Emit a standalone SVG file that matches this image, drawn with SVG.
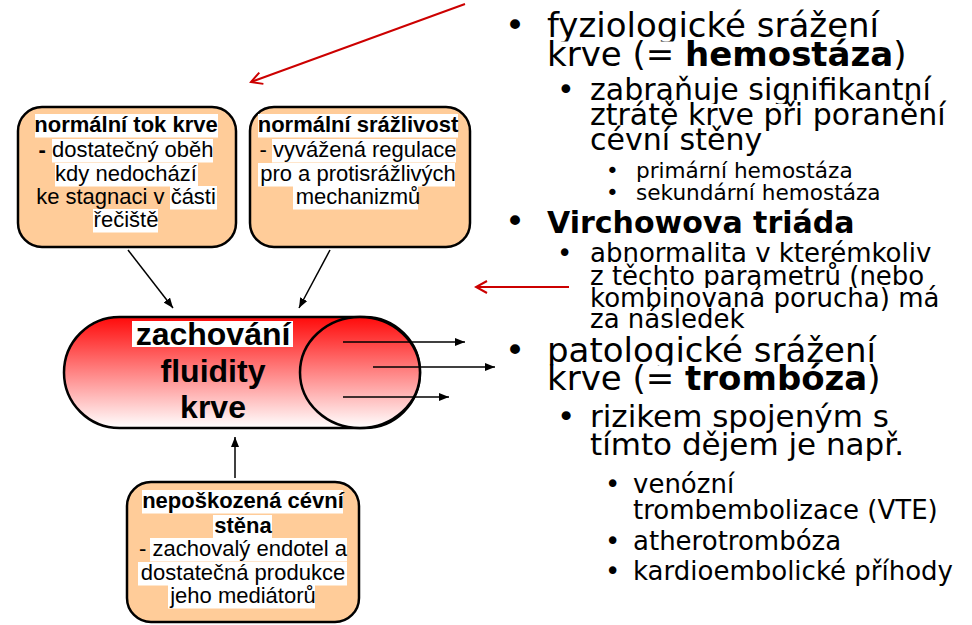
<svg xmlns="http://www.w3.org/2000/svg" width="972" height="625" viewBox="0 0 972 625">
<defs>
<style>
.box{fill:#FFCC99;stroke:#000;stroke-width:2.5}
.bt{font-family:"Liberation Sans",Arial,sans-serif;font-size:22px;fill:#000;text-anchor:middle}
.b{font-weight:bold}
.hl{fill:#fff}
.pt{font-family:"Liberation Sans",Arial,sans-serif;font-size:32px;font-weight:bold;fill:#000;text-anchor:middle}
.rt{font-family:"DejaVu Sans",Verdana,sans-serif;fill:#000}
.bg{fill:#fff}
.con{stroke:#000;stroke-width:1.5;fill:none}
.red{stroke:#CC0000;stroke-width:2;fill:none}
</style>
<linearGradient id="rg" gradientUnits="userSpaceOnUse" x1="0" y1="317" x2="0" y2="428">
<stop offset="0" stop-color="#FF0A0A"/>
<stop offset="1" stop-color="#FFFFFF"/>
</linearGradient>
<marker id="ah" markerUnits="userSpaceOnUse" markerWidth="10" markerHeight="8" refX="10" refY="4" orient="auto">
<path d="M0,0 L10,4 L0,8 z" fill="#000"/>
</marker>
<marker id="rah" markerUnits="userSpaceOnUse" markerWidth="14" markerHeight="14" refX="12" refY="7" orient="auto">
<path d="M1,1 L12,7 L1,13" fill="none" stroke="#CC0000" stroke-width="2"/>
</marker>
</defs>
<rect width="972" height="625" fill="#fff"/>

<g id="box-tok">
<rect class="box" x="18" y="107" width="218" height="140" rx="24"/>
<rect class="hl" x="35" y="114" width="183" height="23.5"/>
<rect class="hl" x="52" y="139" width="161" height="23.5"/>
<rect class="hl" x="55" y="163" width="143" height="23.5"/>
<rect class="hl" x="170" y="186" width="47" height="23.5"/>
<rect class="hl" x="93" y="209" width="65" height="23.5"/>
<text class="bt b" x="126" y="132">normální tok krve</text>
<text class="bt" x="126" y="157"><tspan class="b">-</tspan> dostatečný oběh</text>
<text class="bt" x="126" y="181">kdy nedochází</text>
<text class="bt" x="126" y="204">ke stagnaci v části</text>
<text class="bt" x="126" y="227">řečiště</text>
</g>

<g id="box-srazlivost">
<rect class="box" x="250" y="107" width="220" height="140" rx="24"/>
<rect class="hl" x="258" y="114" width="200" height="23.5"/>
<rect class="hl" x="272" y="139" width="184" height="23.5"/>
<rect class="hl" x="258" y="163" width="197" height="23.5"/>
<rect class="hl" x="293" y="186" width="125" height="23.5"/>
<text class="bt b" x="358" y="132">normální srážlivost</text>
<text class="bt" x="358" y="157">- vyvážená regulace</text>
<text class="bt" x="358" y="181">pro a protisrážlivých</text>
<text class="bt" x="358" y="204">mechanizmů</text>
</g>

<g id="box-stena">
<rect class="box" x="127" y="482" width="232" height="140" rx="24"/>
<rect class="hl" x="142" y="490" width="201" height="23.5"/>
<rect class="hl" x="213" y="515" width="59" height="23.5"/>
<rect class="hl" x="150" y="538" width="197" height="23.5"/>
<rect class="hl" x="138" y="562" width="209" height="23.5"/>
<rect class="hl" x="168" y="585" width="147" height="23.5"/>
<text class="bt b" x="243" y="508">nepoškozená cévní</text>
<text class="bt b" x="243" y="533">stěna</text>
<text class="bt" x="243" y="556">- zachovalý endotel a</text>
<text class="bt" x="243" y="580">dostatečná produkce</text>
<text class="bt" x="243" y="603">jeho mediátorů</text>
</g>

<g id="vessel">
<rect x="64" y="317" width="356" height="111" rx="55.5" fill="url(#rg)" stroke="#000" stroke-width="2.5"/>
<ellipse cx="360" cy="372.5" rx="60" ry="55.5" fill="url(#rg)" stroke="#000" stroke-width="2.5"/>
<rect class="hl" x="132" y="321" width="161" height="26"/>
<text class="pt" x="213" y="345">zachování</text>
<text class="pt" x="213" y="382">fluidity</text>
<text class="pt" x="213" y="418">krve</text>
</g>

<g id="connectors">
<line class="con" x1="128" y1="250" x2="173" y2="308" marker-end="url(#ah)"/>
<line class="con" x1="330" y1="250" x2="299" y2="308" marker-end="url(#ah)"/>
<line class="con" x1="235" y1="478" x2="235" y2="437" marker-end="url(#ah)"/>
<line class="con" x1="343" y1="342" x2="465" y2="342" marker-end="url(#ah)"/>
<line class="con" x1="373" y1="367" x2="495" y2="367" marker-end="url(#ah)"/>
<line class="con" x1="343" y1="397" x2="449" y2="397" marker-end="url(#ah)"/>
<line class="red" x1="465" y1="4" x2="251" y2="82" marker-end="url(#rah)"/>
<line class="red" x1="569" y1="287" x2="476" y2="287" stroke-width="1.6" marker-end="url(#rah)"/>
</g>

<g id="bullets">
<text class="rt" x="505" y="37" font-size="34">•</text>
<rect class="bg" x="545" y="12" width="340" height="32"/>
<text class="rt" x="547" y="37" font-size="34">fyziologické srážení</text>
<rect class="bg" x="545" y="41.5" width="365" height="32"/>
<text class="rt" x="547" y="66" font-size="34">krve (= <tspan font-weight="bold">hemostáza</tspan>)</text>

<text class="rt" x="557" y="100" font-size="30">•</text>
<rect class="bg" x="588" y="79" width="356" height="28"/>
<text class="rt" x="590" y="100" font-size="30">zabraňuje signifikantní</text>
<rect class="bg" x="588" y="104" width="366" height="28"/>
<text class="rt" x="590" y="125" font-size="30">ztrátě krve při poranění</text>
<rect class="bg" x="588" y="129" width="174" height="28"/>
<text class="rt" x="590" y="150" font-size="30">cévní stěny</text>

<text class="rt" x="606" y="178" font-size="21.6">•</text>
<rect class="bg" x="634" y="162.5" width="224" height="21"/>
<text class="rt" x="636" y="178" font-size="21.6">primární hemostáza</text>
<text class="rt" x="606" y="200" font-size="21.6">•</text>
<rect class="bg" x="634" y="184.5" width="253" height="21"/>
<text class="rt" x="636" y="200" font-size="21.6">sekundární hemostáza</text>

<text class="rt" x="505" y="233" font-size="34">•</text>
<rect class="bg" x="545" y="211" width="314" height="29"/>
<text class="rt" x="547" y="233" font-size="30" font-weight="bold">Virchowova triáda</text>

<text class="rt" x="557" y="262" font-size="26">•</text>
<rect class="bg" x="588" y="243" width="350" height="24"/>
<text class="rt" x="590" y="262" font-size="26">abnormalita v kterémkoliv</text>
<rect class="bg" x="588" y="266" width="340" height="24"/>
<text class="rt" x="590" y="285" font-size="26">z těchto parametrů (nebo</text>
<rect class="bg" x="588" y="288" width="354" height="24"/>
<text class="rt" x="590" y="307" font-size="26">kombinovaná porucha) má</text>
<rect class="bg" x="588" y="309" width="175" height="24"/>
<text class="rt" x="590" y="328" font-size="26">za následek</text>

<text class="rt" x="505" y="362" font-size="34">•</text>
<rect class="bg" x="545" y="337.5" width="336" height="32"/>
<text class="rt" x="547" y="362" font-size="34">patologické srážení</text>
<rect class="bg" x="545" y="365.5" width="348" height="32"/>
<text class="rt" x="547" y="390" font-size="34">krve (= <tspan font-weight="bold">trombóza</tspan>)</text>

<text class="rt" x="557" y="427" font-size="31">•</text>
<rect class="bg" x="588" y="405" width="304" height="29"/>
<text class="rt" x="590" y="427" font-size="31">rizikem spojeným s</text>
<rect class="bg" x="588" y="433" width="322" height="29"/>
<text class="rt" x="590" y="455" font-size="31">tímto dějem je např.</text>

<text class="rt" x="605" y="493" font-size="26">•</text>
<rect class="bg" x="631" y="474" width="108" height="24"/>
<text class="rt" x="633" y="493" font-size="26">venózní</text>
<rect class="bg" x="631" y="500" width="316" height="24"/>
<text class="rt" x="633" y="519" font-size="26">trombembolizace (VTE)</text>
<text class="rt" x="605" y="550" font-size="26">•</text>
<text class="rt" x="633" y="550" font-size="26">atherotrombóza</text>
<text class="rt" x="605" y="580" font-size="26">•</text>
<text class="rt" x="633" y="580" font-size="26">kardioembolické příhody</text>
</g>
</svg>
